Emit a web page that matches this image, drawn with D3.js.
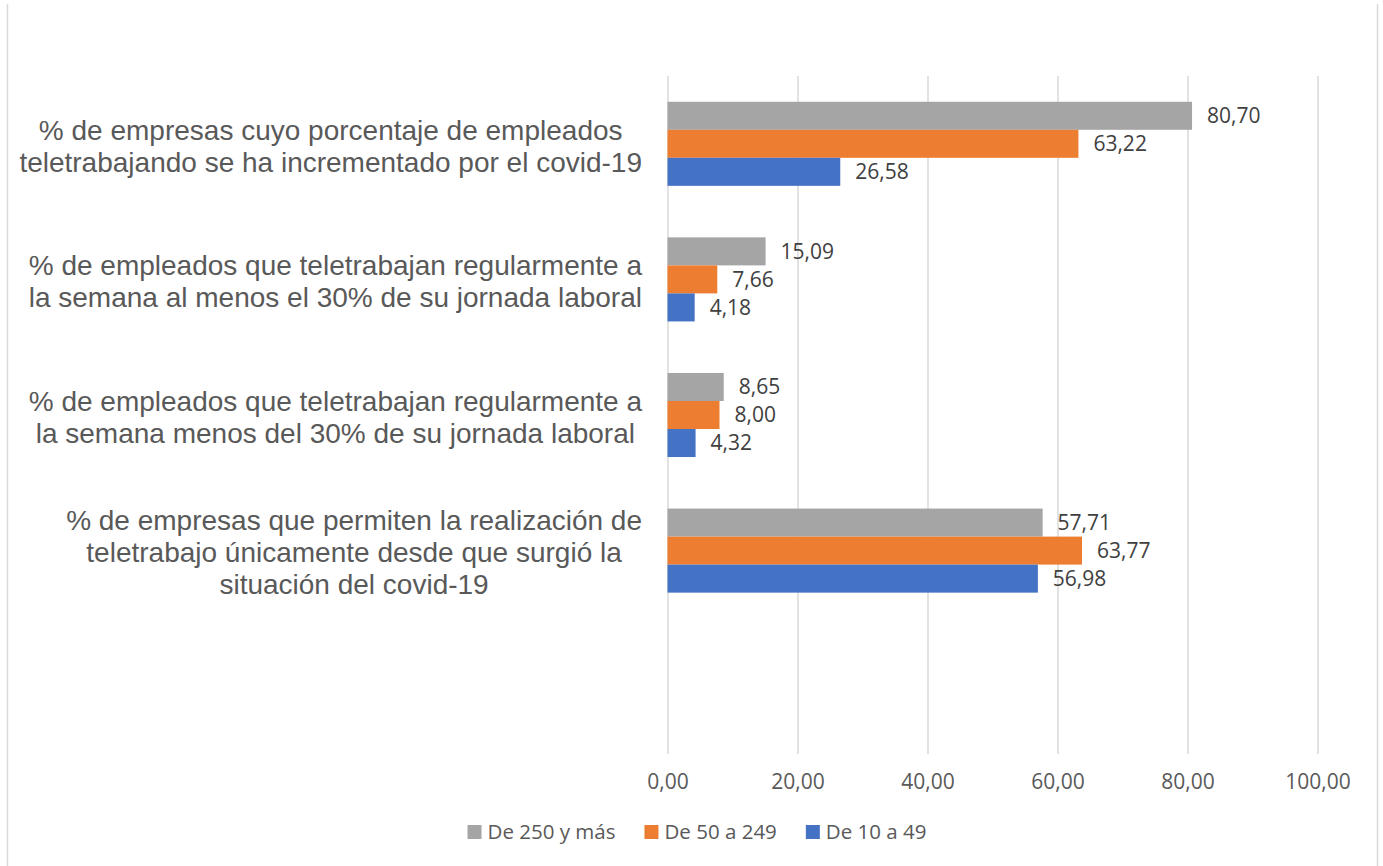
<!DOCTYPE html>
<html>
<head>
<meta charset="utf-8">
<script src="https://cdn.jsdelivr.net/npm/d3@7"></script>
<style>
  body { margin: 0; background: #fff; }
  svg { display: block; }
</style>
</head>
<body>
<svg id="chart"></svg>
<script>
const width = 1383
const height = 866

// categories, top to bottom (last one is an empty slot like in the original)
const categories = [
  ['% de empresas cuyo porcentaje de empleados', 'teletrabajando se ha incrementado por el covid-19'],
  ['% de empleados que teletrabajan regularmente a', 'la semana al menos el 30% de su jornada laboral'],
  ['% de empleados que teletrabajan regularmente a', 'la semana menos del 30% de su jornada laboral'],
  ['% de empresas que permiten la realización de', 'teletrabajo únicamente desde que surgió la', 'situación del covid-19'],
  ['']
]
const seriesNames = ['De 250 y más', 'De 50 a 249', 'De 10 a 49']
const seriesColors = ['#A5A5A5', '#ED7D31', '#4472C4']
const values250 = [80.70, 15.09, 8.65, 57.71]
const values50 = [63.22, 7.66, 8.00, 63.77]
const values10 = [26.58, 4.18, 4.32, 56.98]
const xTicks = [0, 20, 40, 60, 80, 100]

const seriesValues = [values250, values50, values10]
const fmt = v => d3.format('.2f')(v).replace('.', ',')

const svg = d3.select('#chart')
  .attr('width', width)
  .attr('height', height)

// chart border (only sides visible)
svg.append('line').attr('x1', 7.5).attr('x2', 7.5).attr('y1', 4).attr('y2', height)
  .attr('stroke', '#d9d9d9').attr('stroke-width', 1.5)
svg.append('line').attr('x1', 1377.5).attr('x2', 1377.5).attr('y1', 4).attr('y2', height)
  .attr('stroke', '#d9d9d9').attr('stroke-width', 1.5)

const Xscale = d3.scaleLinear().domain([0, 100]).range([667.5, 1317.5])
const Yscale = d3.scaleBand()
  .domain(d3.range(categories.length))
  .range([76, 754])
  .paddingInner(0.38)
  .paddingOuter(0.19)
const Sscale = d3.scaleBand()
  .domain(d3.range(seriesNames.length))
  .range([0, Yscale.bandwidth()])

// gridlines
const xAxis = d3.axisBottom(Xscale)
  .tickValues(xTicks)
  .tickSize(-(754 - 76))
  .tickFormat(fmt)
  .tickPadding(20)

const axisG = svg.append('g')
  .attr('transform', 'translate(0,754)')
  .call(xAxis)
axisG.select('.domain').remove()
axisG.selectAll('.tick line').attr('stroke', '#d9d9d9').attr('stroke-width', 1.5)
axisG.selectAll('.tick text')
  .attr('fill', '#595959')
  .attr('font-family', '"Open Sans", sans-serif')
  .attr('font-size', 21)

// bars
const rows = values250.map((_, i) => seriesValues.map((vals, s) => ({ cat: i, s, v: vals[i] }))).flat()

const barG = svg.append('g')
barG.selectAll('rect')
  .data(rows)
  .enter()
  .append('rect')
  .attr('x', Xscale(0))
  .attr('y', d => Yscale(d.cat) + Sscale(d.s))
  .attr('width', d => Xscale(d.v) - Xscale(0))
  .attr('height', Sscale.bandwidth())
  .attr('fill', d => seriesColors[d.s])

// data labels
barG.selectAll('text')
  .data(rows)
  .enter()
  .append('text')
  .attr('x', d => Xscale(d.v) + 15)
  .attr('y', d => Yscale(d.cat) + Sscale(d.s) + Sscale.bandwidth() / 2)
  .attr('dy', '0.35em')
  .attr('fill', '#404040')
  .attr('font-family', '"Open Sans", sans-serif')
  .attr('font-size', 21)
  .text(d => fmt(d.v))

// category labels
const labelRight = 642
const lineH = 32
categories.forEach((lines, i) => {
  if (!lines[0]) return
  const g = svg.append('g')
  const texts = lines.map(l => g.append('text')
    .attr('font-family', '"Liberation Sans", Arial, sans-serif')
    .attr('font-size', 28)
    .attr('fill', '#595959')
    .attr('text-anchor', 'middle')
    .text(l))
  const maxW = d3.max(texts, t => t.node().getComputedTextLength())
  const cx = labelRight - maxW / 2
  const cy = Yscale(i) + Yscale.bandwidth() / 2 + 2
  const top = cy - (lines.length - 1) * lineH / 2
  texts.forEach((t, k) => t.attr('x', cx).attr('y', top + k * lineH).attr('dy', '0.35em'))
})

// legend
const legendG = svg.append('g')
let lx = 0
seriesNames.forEach((name, i) => {
  legendG.append('rect')
    .attr('x', lx).attr('y', 825)
    .attr('width', 14).attr('height', 14)
    .attr('fill', seriesColors[i])
  const t = legendG.append('text')
    .attr('x', lx + 20).attr('y', 832)
    .attr('dy', '0.35em')
    .attr('fill', '#595959')
    .attr('font-family', '"Open Sans", sans-serif')
    .attr('font-size', 20.5)
    .text(name)
  lx += 20 + t.node().getComputedTextLength() + 29
})
const legendW = lx - 29
legendG.attr('transform', `translate(${697 - legendW / 2},0)`)
</script>
</body>
</html>
